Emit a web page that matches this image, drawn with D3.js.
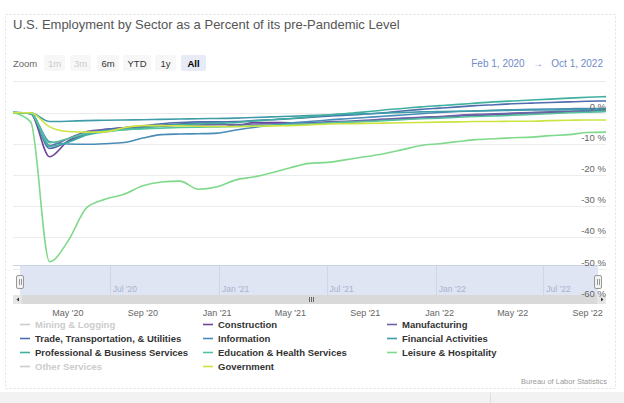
<!DOCTYPE html>
<html>
<head>
<meta charset="utf-8">
<script src="https://cdn.jsdelivr.net/npm/d3@7"></script>
<style>
  html, body { margin: 0; padding: 0; background: #fff; }
  text { font-family: "Liberation Sans", Arial, sans-serif; }
</style>
</head>
<body>
<div id="chart"></div>
<script>
// monthly points, Feb 2020 .. Oct 2022
const months = d3.timeMonth.range(new Date(2020, 1, 1), new Date(2022, 10, 1))

const construction  = [0, -0.4, -14.2, -9.2, -6.4, -5.5, -4.9, -4.6, -4.1, -3.7, -3.5, -3.3, -4.4, -3.2, -3.2, -3.3, -3.3, -3.2, -3.0, -2.8, -2.4, -2.1, -1.8, -1.6, -1.2, -0.9, -0.7, -0.5, -0.3, -0.1, 0.1, 0.3, 0.4]
const manufacturing = [0, -0.2, -10.6, -8.4, -6.1, -5.4, -5.0, -4.7, -4.4, -4.1, -4.0, -3.9, -3.9, -3.7, -3.6, -3.4, -3.3, -3.0, -2.8, -2.5, -2.1, -1.8, -1.5, -1.3, -0.9, -0.6, -0.4, -0.2, 0.0, 0.2, 0.4, 0.6, 0.8]
const trade         = [0, -0.3, -11.5, -9.4, -6.8, -5.6, -4.9, -4.3, -3.6, -3.2, -3.0, -3.0, -2.9, -2.6, -2.3, -2.0, -1.6, -1.2, -0.9, -0.5, -0.1, 0.5, 1.0, 1.4, 1.8, 2.2, 2.5, 2.8, 3.0, 3.2, 3.4, 3.6, 3.7]
const information   = [0, -0.3, -9.4, -10.1, -10.2, -10.0, -9.6, -8.2, -7.1, -6.9, -6.8, -6.6, -5.6, -4.8, -4.1, -3.4, -2.9, -2.4, -2.0, -1.6, -1.2, -0.8, -0.4, 0.0, 0.3, 0.5, 0.7, 0.9, 1.0, 1.1, 1.2, 1.3, 1.3]
const financial     = [0, -0.1, -2.9, -2.8, -2.6, -2.5, -2.4, -2.3, -2.2, -2.1, -2.0, -1.9, -1.8, -1.6, -1.4, -1.2, -1.0, -0.8, -0.6, -0.4, -0.2, 0.0, 0.2, 0.3, 0.4, 0.5, 0.6, 0.7, 0.8, 0.8, 0.9, 0.9, 1.0]
const professional  = [0, -0.3, -10.8, -9.6, -7.2, -6.2, -5.5, -5.0, -4.3, -3.9, -3.6, -3.4, -3.2, -2.7, -2.3, -1.9, -1.4, -0.8, -0.3, 0.2, 0.8, 1.3, 1.8, 2.2, 2.6, 3.0, 3.4, 3.7, 4.0, 4.3, 4.6, 4.9, 5.1]
const education     = [0, -0.2, -9.7, -8.4, -6.6, -5.9, -5.5, -5.3, -5.0, -4.8, -4.7, -4.6, -4.5, -4.3, -4.1, -3.9, -3.7, -3.4, -3.1, -2.9, -2.6, -2.3, -2.0, -1.8, -1.5, -1.3, -1.1, -0.9, -0.6, -0.4, -0.1, 0.1, 0.3]
const leisure       = [0, -3.0, -47.8, -41.3, -30.5, -27.8, -26.2, -23.5, -22.3, -22.0, -24.6, -23.8, -21.6, -20.7, -19.3, -17.7, -16.3, -16.0, -15.1, -14.2, -13.2, -11.9, -10.6, -10.0, -9.3, -8.7, -8.4, -8.1, -7.9, -7.4, -7.1, -6.4, -6.3]
const government    = [0, -0.1, -4.6, -6.1, -6.3, -6.2, -4.9, -4.2, -4.2, -4.3, -4.4, -4.5, -4.5, -4.4, -4.3, -4.2, -4.0, -3.7, -3.6, -3.5, -3.4, -3.3, -3.2, -3.1, -3.0, -2.9, -2.9, -2.8, -2.8, -2.6, -2.5, -2.4, -2.4]

const seriesNames = ["Mining & Logging", "Construction", "Manufacturing",
                     "Trade, Transportation, & Utilities", "Information", "Financial Activities",
                     "Professional & Business Services", "Education & Health Services", "Leisure & Hospitality",
                     "Other Services", "Government"]
const seriesData = [null, construction, manufacturing, trade, information, financial,
                    professional, education, leisure, null, government]
const seriesColors = ["#cccccc", "#6b4599", "#6c63a8", "#4f6cae", "#4a8bb8", "#3f9ca8",
                      "#3fb0a0", "#55c49e", "#7fd98c", "#cccccc", "#cde342"]

const yTicks = [0, -10, -20, -30, -40, -50, -60]
const xTicks = [new Date(2020, 4, 1), new Date(2020, 8, 1), new Date(2021, 0, 1), new Date(2021, 4, 1),
                new Date(2021, 8, 1), new Date(2022, 0, 1), new Date(2022, 4, 1), new Date(2022, 8, 1)]
const navTicks = [new Date(2020, 6, 1), new Date(2021, 0, 1), new Date(2021, 6, 1), new Date(2022, 0, 1), new Date(2022, 6, 1)]
const zoomButtons = ["1m", "3m", "6m", "YTD", "1y", "All"]

let svg = d3.select("#chart").append("svg")
    .attr("width", 624)
    .attr("height", 403)

let x = d3.scaleTime().domain([new Date(2020, 1, 1), new Date(2022, 9, 1)]).range([13, 606]),
    y = d3.scaleLinear().domain([-60, 10]).range([299.7, 81.3]),
    xNav = d3.scaleTime().domain(x.domain()).range([20, 598])

// frame
svg.append("rect").attr("x", 0).attr("y", 392).attr("width", 624).attr("height", 11).attr("fill", "#f2f2f2")
svg.append("line").attr("x1", 490.5).attr("x2", 490.5).attr("y1", 393).attr("y2", 403).attr("stroke", "#ddd")
svg.append("rect")
    .attr("x", 5.5).attr("y", 14.5).attr("width", 610).attr("height", 374)
    .attr("fill", "#fff").attr("stroke", "#e3e3e3").attr("stroke-dasharray", "2,2")

svg.append("text")
    .attr("x", 13).attr("y", 29)
    .attr("font-size", 13).attr("fill", "#555")
    .text("U.S. Employment by Sector as a Percent of its pre-Pandemic Level")

// range selector
svg.append("text").attr("x", 13).attr("y", 67).attr("font-size", 9.5).attr("fill", "#666").text("Zoom")
let bx = [44, 70, 97, 123, 155, 181], bw = [21, 21, 22, 28, 21, 25]
let btn = svg.selectAll("g.btn").data(zoomButtons).join("g").attr("class", "btn")
btn.append("rect")
    .attr("x", (d, i) => bx[i]).attr("y", 55).attr("width", (d, i) => bw[i]).attr("height", 16).attr("rx", 2)
    .attr("fill", d => d == "All" ? "#e6ebf5" : "#f7f7f7")
btn.append("text")
    .attr("x", (d, i) => bx[i] + bw[i] / 2).attr("y", 67).attr("text-anchor", "middle")
    .attr("font-size", 9.5).attr("font-weight", d => d == "All" ? "bold" : "normal")
    .attr("fill", d => (d == "1m" || d == "3m") ? "#ccc" : (d == "All" ? "#000" : "#333"))
    .text(d => d)
svg.append("text").attr("x", 603).attr("y", 67).attr("text-anchor", "end")
    .attr("font-size", 10).attr("fill", "#6f8bc6")
    .text("Feb 1, 2020   \u2192   Oct 1, 2022")
    .attr("xml:space", "preserve").style("white-space", "pre")

// grid
svg.append("g").selectAll("line").data([10].concat(yTicks.slice(0, 6))).join("line")
    .attr("x1", 13).attr("x2", 606)
    .attr("y1", d => Math.round(y(d)) + 0.5).attr("y2", d => Math.round(y(d)) + 0.5)
    .attr("stroke", "#ececec")

// series
let line = d3.line().x((d, i) => x(months[i])).y(d => y(d)).curve(d3.curveMonotoneX)
svg.append("g").selectAll("path")
    .data(seriesData.map((d, i) => ({ d: d, c: seriesColors[i] })).filter(s => s.d))
    .join("path")
    .attr("d", s => line(s.d))
    .attr("fill", "none").attr("stroke", s => s.c).attr("stroke-width", 1.6)

// navigator
let nav = svg.append("g")
nav.append("rect").attr("x", 20).attr("y", 266).attr("width", 578).attr("height", 29).attr("fill", "#dfe5f2")
nav.append("line").attr("x1", 13).attr("x2", 606).attr("y1", 265.5).attr("y2", 265.5).attr("stroke", "#ccd3e6")
nav.selectAll("line.g").data(navTicks).join("line").attr("class", "g")
    .attr("x1", d => Math.round(xNav(d)) + 0.5).attr("x2", d => Math.round(xNav(d)) + 0.5)
    .attr("y1", 266).attr("y2", 295).attr("stroke", "#cfd6e8")
nav.selectAll("text").data(navTicks).join("text")
    .attr("x", d => xNav(d) + 3).attr("y", 292)
    .attr("font-size", 8.5).attr("fill", "#a7b3cf")
    .text(d => d3.timeFormat("%b '%y")(d))
;[20, 598].forEach(hx => {
    nav.append("rect").attr("x", hx - 3.5).attr("y", 275.5).attr("width", 7).attr("height", 13).attr("rx", 1.5)
        .attr("fill", "#f2f2f2").attr("stroke", "#999")
    nav.append("line").attr("x1", hx - 0.5).attr("x2", hx - 0.5).attr("y1", 279).attr("y2", 285).attr("stroke", "#999")
    nav.append("line").attr("x1", hx + 1.5).attr("x2", hx + 1.5).attr("y1", 279).attr("y2", 285).attr("stroke", "#999")
})
// scrollbar
nav.append("rect").attr("x", 13).attr("y", 295).attr("width", 593).attr("height", 9).attr("fill", "#e6e6e6")
nav.append("rect").attr("x", 22).attr("y", 295).attr("width", 575).attr("height", 9).attr("fill", "#d9d9d9")
nav.append("path").attr("d", "M16.5,299.5 L19,297.5 L19,301.5 Z").attr("fill", "#333")
nav.append("path").attr("d", "M603.5,299.5 L601,297.5 L601,301.5 Z").attr("fill", "#333")
;[-2, 0, 2].forEach(o => {
    nav.append("line").attr("x1", 311.5 + o).attr("x2", 311.5 + o).attr("y1", 297).attr("y2", 302).attr("stroke", "#666")
})

// y labels
svg.append("g").selectAll("text").data(yTicks).join("text")
    .attr("x", 606).attr("y", d => y(d) - 3).attr("text-anchor", "end")
    .attr("font-size", 9.5).attr("fill", "#666")
    .text(d => d + " %")

// x labels
svg.append("g").selectAll("text").data(xTicks).join("text")
    .attr("x", d => x(d)).attr("y", 315.5).attr("text-anchor", "middle")
    .attr("font-size", 9).attr("fill", "#666")
    .text(d => d3.timeFormat("%b '%y")(d))

// legend
let colX = [20, 203, 387], rowY = [324, 338, 352, 366]
let leg = svg.append("g").selectAll("g").data(seriesNames).join("g")
    .attr("transform", (d, i) => `translate(${colX[i % 3]},${rowY[Math.floor(i / 3)]})`)
leg.append("line").attr("x1", 0).attr("x2", 10).attr("y1", 0.5).attr("y2", 0.5)
    .attr("stroke", (d, i) => seriesColors[i]).attr("stroke-width", 1.6)
leg.append("text").attr("x", 15).attr("y", 3.5)
    .attr("font-size", 9.5).attr("font-weight", "bold")
    .attr("fill", (d, i) => seriesData[i] ? "#333" : "#ccc")
    .text(d => d)

svg.append("text").attr("x", 607).attr("y", 384).attr("text-anchor", "end")
    .attr("font-size", 7.5).attr("fill", "#999").text("Bureau of Labor Statistics")
</script>
</body>
</html>
